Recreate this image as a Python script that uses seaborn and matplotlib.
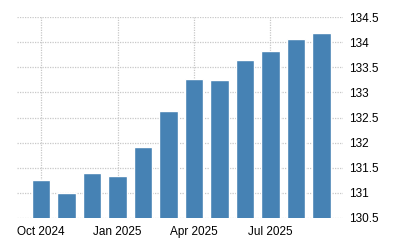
import matplotlib
matplotlib.use("Agg")
import matplotlib.pyplot as plt
import seaborn as sns
import pandas as pd

months = ["Oct 2024", "Nov 2024", "Dec 2024", "Jan 2025", "Feb 2025", "Mar 2025",
          "Apr 2025", "May 2025", "Jun 2025", "Jul 2025", "Aug 2025", "Sep 2025"]
values = [131.26, 130.99, 131.40, 131.34, 131.92, 132.62,
          133.26, 133.24, 133.64, 133.83, 134.07, 134.19]
xtick_labels = ["Oct 2024", "Jan 2025", "Apr 2025", "Jul 2025"]
ytick_values = [130.5, 131, 131.5, 132, 132.5, 133, 133.5, 134, 134.5]
ytick_labels = ["130.5", "131", "131.5", "132", "132.5", "133", "133.5", "134", "134.5"]

sns.set_style("white")
plt.rcParams["font.family"] = ["Liberation Sans", "DejaVu Sans"]

df = pd.DataFrame({"month": months, "value": values})

fig = plt.figure(figsize=(4, 2.5), dpi=100)
ax = fig.add_axes([0.0425, 0.128, 0.815, 0.804])
sns.barplot(data=df, x="month", y="value", color="#4682B4", width=0.72,
            saturation=1, ax=ax, zorder=2)

ax.set_ylim(130.5, 134.5)
ax.set_xlim(-0.95, 11.85)
ax.set_yticks(ytick_values)
ax.set_yticklabels(ytick_labels)
ax.yaxis.tick_right()
xt = [months.index(m) for m in xtick_labels]
ax.set_xticks(xt)
ax.set_xticklabels(xtick_labels)
ax.tick_params(axis="both", labelsize=8.5, labelcolor="#000000")
ax.tick_params(axis="y", length=0, pad=4)
ax.tick_params(axis="x", length=2.5, width=0.8, color="#c8c8c8", pad=3)
ax.set_xlabel("")
ax.set_ylabel("")
ax.grid(True, axis="both", color="#c8c8c8", linestyle=(0, (1, 1)), linewidth=0.9, zorder=0)
ax.set_axisbelow(True)
for s in ax.spines.values():
    s.set_visible(False)

fig.savefig("out.png", dpi=100)
